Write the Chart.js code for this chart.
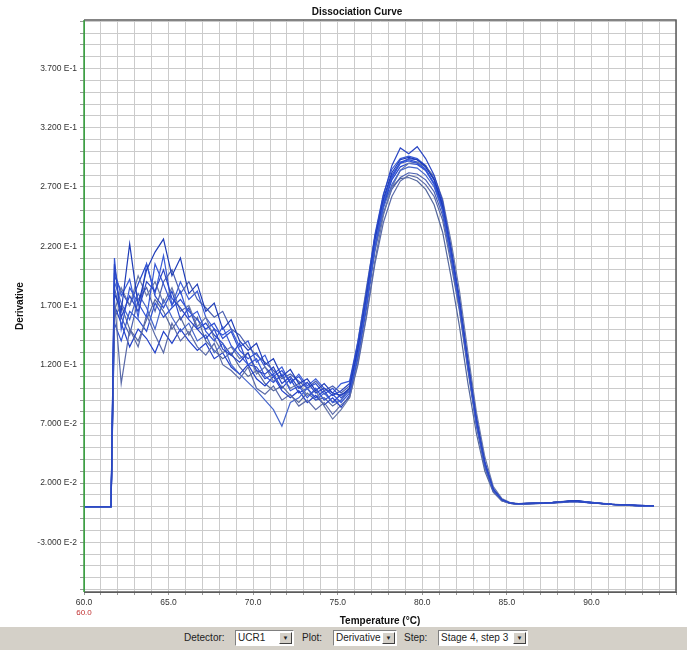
<!DOCTYPE html>
<html>
<head>
<meta charset="utf-8">
<script src="https://cdn.jsdelivr.net/npm/chart.js@4.4.1/dist/chart.umd.min.js"></script>
<style>
    html, body { margin: 0; padding: 0; background: #fff; }
    #wrap { position: relative; width: 687px; height: 650px; overflow: hidden; font-family: "Liberation Sans", Arial, sans-serif; }
    #curve { position: absolute; left: 0; top: 0; }
    #bar { position: absolute; left: 0; top: 627px; width: 687px; height: 23px; background: #d4d0c8; font-size: 10px; color: #222; }
    .lbl { position: absolute; top: 5px; }
    .combo { position: absolute; top: 3px; height: 16px; background: #fff; border: 1px solid; border-color: #808080 #fff #fff #808080; box-sizing: border-box; }
    .combo span { position: absolute; left: 2px; top: 1px; }
    .combo b { position: absolute; right: 1px; top: 1px; width: 13px; height: 12px; background: #d4d0c8; border: 1px solid; border-color: #fff #404040 #404040 #fff; box-sizing: border-box; font-size: 6px; text-align: center; line-height: 10px; font-weight: normal; }
</style>
</head>
<body>
<div id="wrap">
    <canvas id="curve" width="687" height="650"></canvas>
    <div id="bar">
        <div class="lbl" style="left:184px">Detector:</div>
        <div class="combo" style="left:235px;width:59px"><span>UCR1</span><b>&#9660;</b></div>
        <div class="lbl" style="left:302px">Plot:</div>
        <div class="combo" style="left:333px;width:64px"><span>Derivative</span><b>&#9660;</b></div>
        <div class="lbl" style="left:404px">Step:</div>
        <div class="combo" style="left:438px;width:90px"><span>Stage 4, step 3</span><b>&#9660;</b></div>
    </div>
</div>
<script>
// temperatures (deg C) shared by every well
const temps = [
    60.0, 61.6, 61.8, 62.2, 62.7, 63.2, 63.7, 64.2, 64.7, 65.2, 65.7,
    66.2, 66.7, 67.2, 67.7, 68.2, 68.7, 69.2, 69.7, 70.2, 70.7, 71.2,
    71.7, 72.2, 72.7, 73.2, 73.7, 74.2, 74.7, 75.2, 75.7, 76.2, 76.7,
    77.2, 77.7, 78.2, 78.7, 79.2, 79.7, 80.2, 80.7, 81.2, 81.7, 82.2,
    82.7, 83.2, 83.7, 84.2, 84.7, 85.2, 85.7, 86.2, 86.7, 87.2, 87.7,
    88.2, 88.7, 89.2, 89.7, 90.2, 90.7, 91.2, 91.7, 92.2, 92.7, 93.2, 93.7
];

// derivative per well
const well1 = [
    0, 0, .205, .160, .178, .165, .190, .182, .200, .176, .168,
    .158, .150, .142, .150, .133, .128, .122, .130, .115, .112, .118,
    .104, .110, .100, .105, .096, .100, .094, .098, .104, .138, .180,
    .228, .263, .288, .303, .298, .304, .294, .280, .258, .218, .174,
    .122, .074, .037, .015, .006, .003, .0025, .003, .0028, .003, .0035,
    .004, .0048, .0045, .0035, .003, .0025, .002, .0018, .0015, .0012, .001, .0008
];
const well2 = [
    0, 0, .210, .150, .185, .172, .160, .205, .188, .170, .182,
    .160, .165, .148, .140, .152, .136, .128, .120, .125, .110, .105,
    .112, .098, .102, .092, .100, .090, .095, .088, .096, .128, .170,
    .220, .256, .278, .290, .292, .290, .284, .272, .250, .212, .170,
    .118, .070, .035, .014, .006, .003, .0022, .0025, .003, .0028, .0032,
    .0038, .0042, .0046, .004, .0032, .0026, .002, .0016, .0013, .001, .0008, .0006
];
const well3 = [
    0, 0, .175, .104, .150, .135, .162, .145, .130, .155, .140,
    .148, .135, .128, .138, .120, .115, .108, .118, .100, .095, .102,
    .090, .095, .085, .090, .082, .088, .078, .086, .092, .120, .160,
    .205, .240, .262, .275, .280, .278, .272, .262, .242, .205, .165,
    .115, .068, .033, .013, .005, .0028, .002, .0024, .0026, .0028, .003,
    .0034, .004, .0042, .0036, .003, .0024, .0019, .0016, .0012, .001, .0007, .0005
];
const well4 = [
    0, 0, .180, .165, .222, .170, .200, .215, .226, .195, .210,
    .180, .188, .165, .172, .150, .158, .140, .132, .138, .120, .125,
    .110, .116, .104, .108, .098, .104, .096, .094, .100, .134, .178,
    .226, .260, .282, .293, .295, .293, .287, .276, .254, .216, .172,
    .120, .072, .036, .014, .006, .003, .0024, .0028, .003, .0032, .0036,
    .0042, .005, .0052, .0042, .0034, .0027, .0021, .0017, .0014, .0011, .0009, .0007
];
const well5 = [
    0, 0, .190, .172, .158, .180, .168, .150, .175, .160, .148,
    .155, .140, .145, .130, .138, .120, .112, .105, .098, .090, .082,
    .068, .088, .092, .100, .090, .096, .088, .090, .098, .130, .172,
    .218, .252, .272, .284, .287, .286, .280, .270, .250, .212, .170,
    .120, .072, .036, .014, .006, .003, .002, .0024, .0027, .003, .0033,
    .0038, .0044, .0047, .004, .0033, .0026, .002, .0016, .0013, .001, .0008, .0006
];
const well6 = [
    0, 0, .165, .185, .170, .195, .178, .190, .172, .185, .165,
    .170, .152, .160, .142, .130, .135, .125, .130, .112, .118, .106,
    .110, .100, .104, .094, .098, .085, .074, .082, .092, .122, .162,
    .208, .246, .270, .284, .290, .291, .287, .279, .260, .224, .182,
    .130, .080, .042, .017, .007, .0035, .0026, .003, .0032, .0034, .0038,
    .0044, .005, .0048, .004, .0034, .0028, .0022, .0018, .0015, .0012, .001, .0008
];
const well7 = [
    0, 0, .155, .140, .165, .158, .148, .172, .160, .168, .175,
    .165, .158, .150, .155, .142, .148, .132, .125, .130, .118, .110,
    .115, .105, .110, .100, .104, .095, .100, .092, .100, .136, .178,
    .225, .258, .280, .291, .293, .291, .285, .273, .252, .214, .171,
    .120, .073, .036, .014, .006, .003, .0023, .0026, .0029, .0031, .0034,
    .004, .0046, .0044, .0037, .003, .0025, .002, .0016, .0013, .001, .0008, .0006
];
const well8 = [
    0, 0, .185, .160, .145, .175, .185, .165, .190, .200, .180,
    .190, .175, .168, .160, .165, .150, .145, .135, .128, .122, .115,
    .108, .112, .106, .100, .106, .098, .102, .096, .102, .132, .172,
    .216, .248, .268, .278, .282, .281, .276, .266, .246, .209, .167,
    .117, .070, .034, .013, .005, .0028, .0022, .0025, .0028, .003, .0034,
    .0039, .0045, .0049, .0041, .0033, .0026, .002, .0016, .0012, .001, .0008, .0006
];
const well9 = [
    0, 0, .170, .155, .135, .150, .142, .130, .148, .138, .150,
    .140, .132, .138, .125, .130, .118, .112, .120, .108, .102, .110,
    .098, .092, .098, .088, .094, .086, .092, .084, .094, .126, .168,
    .218, .254, .278, .290, .294, .293, .288, .277, .256, .219, .176,
    .124, .076, .038, .015, .006, .003, .0024, .0027, .003, .0032, .0035,
    .004, .0046, .0043, .0036, .003, .0025, .002, .0016, .0013, .001, .0008, .0006
];
const well10 = [
    0, 0, .200, .178, .192, .160, .205, .180, .212, .170, .190,
    .175, .182, .160, .150, .145, .150, .135, .140, .122, .128, .112,
    .118, .104, .112, .102, .108, .100, .096, .104, .106, .140, .182,
    .230, .264, .285, .294, .296, .294, .288, .276, .254, .214, .170,
    .118, .071, .035, .014, .006, .003, .0024, .0027, .003, .0033, .0036,
    .0041, .0047, .0046, .0039, .0032, .0026, .002, .0017, .0014, .0011, .0009, .0007
];
const well11 = [
    0, 0, .160, .170, .150, .140, .158, .175, .165, .150, .160,
    .145, .160, .140, .132, .125, .130, .118, .110, .115, .104, .098,
    .102, .094, .088, .096, .090, .092, .085, .090, .100, .140, .185,
    .228, .256, .270, .277, .278, .275, .268, .255, .232, .194, .152,
    .104, .062, .030, .012, .005, .0028, .0022, .0025, .0028, .003, .0033,
    .0038, .0043, .0045, .0038, .0031, .0025, .002, .0016, .0012, .001, .0008, .0006
];
const well12 = [
    0, 0, .195, .182, .170, .188, .205, .178, .168, .182, .158,
    .168, .150, .155, .145, .138, .128, .138, .120, .118, .108, .112,
    .100, .108, .096, .100, .092, .098, .088, .095, .097, .128, .170,
    .219, .254, .276, .287, .290, .289, .284, .273, .253, .215, .173,
    .121, .073, .036, .014, .006, .003, .0023, .0026, .0029, .0031, .0034,
    .0039, .0045, .0044, .0037, .003, .0025, .002, .0016, .0013, .001, .0008, .0006
];

const wells = [well1, well2, well3, well4, well5, well6, well7, well8, well9, well10, well11, well12];
const wellColors = ['#2a46c4', '#3456d6', '#5a6aa8', '#1e3cb8', '#4666cc', '#6878a8',
                    '#2f50d0', '#4a5fb0', '#2240c8', '#3a5cd8', '#55689c', '#2848cc'];

// axis ticks
const xTicks = [];
for (let t = 60; t <= 95; t++) xTicks.push(t);
const xLabelled = [60, 65, 70, 75, 80, 85, 90];
const yTicks = [];
for (let k = -7; k <= 41; k++) yTicks.push(k / 100);
const yLabelled = [-0.03, 0.02, 0.07, 0.12, 0.17, 0.22, 0.27, 0.32, 0.37];

function sciLabel(v) {
    const exp = Math.floor(Math.log10(Math.abs(v)) + 1e-9);
    const mant = v / Math.pow(10, exp);
    return mant.toFixed(3) + ' E' + exp;
}

const frameAndText = {
    id: 'frameAndText',
    afterDraw: function (chart) {
        const ctx = chart.ctx;
        const a = chart.chartArea;
        ctx.save();
        ctx.lineWidth = 1.5;
        ctx.strokeStyle = '#5c5c5c';
        ctx.beginPath();
        ctx.moveTo(a.left, a.top);
        ctx.lineTo(a.right, a.top);
        ctx.lineTo(a.right, a.bottom);
        ctx.lineTo(a.left, a.bottom);
        ctx.stroke();
        ctx.strokeStyle = '#3f9f46';
        ctx.beginPath();
        ctx.moveTo(a.left, a.top);
        ctx.lineTo(a.left, a.bottom);
        ctx.stroke();

        ctx.fillStyle = '#111';
        ctx.font = 'bold 10px "Liberation Sans", Arial, sans-serif';
        ctx.textAlign = 'center';
        ctx.textBaseline = 'middle';
        ctx.fillText('Dissociation Curve', 357, 12);
        ctx.fillText('Temperature (\u00b0C)', (a.left + a.right) / 2, 621);
        ctx.save();
        ctx.translate(20, (a.top + a.bottom) / 2);
        ctx.rotate(-Math.PI / 2);
        ctx.fillText('Derivative', 0, 0);
        ctx.restore();

        // red start temperature under the first tick
        ctx.font = '8px "Liberation Sans", Arial, sans-serif';
        ctx.fillStyle = '#c03030';
        ctx.fillText('60.0', chart.scales.x.getPixelForValue(60), 613);
        ctx.restore();
    }
};

const tickFont = { family: '"Liberation Sans", Arial, sans-serif', size: 8.5 };

new Chart(document.getElementById('curve'), {
    type: 'line',
    data: {
        datasets: wells.map(function (w, i) {
            return {
                data: temps.map(function (t, j) { return { x: t, y: w[j] }; }),
                borderColor: wellColors[i],
                borderWidth: 1.2,
                pointRadius: 0,
                tension: 0,
                fill: false
            };
        })
    },
    options: {
        responsive: false,
        animation: false,
        layout: { padding: { top: 20, right: 11, left: 0, bottom: 0 } },
        plugins: { legend: { display: false }, tooltip: { enabled: false } },
        scales: {
            x: {
                type: 'linear',
                min: 60,
                max: 95,
                afterBuildTicks: function (s) { s.ticks = xTicks.map(function (v) { return { value: v }; }); },
                afterFit: function (s) { s.height = 58; },
                ticks: {
                    autoSkip: false,
                    maxRotation: 0,
                    padding: 3,
                    color: '#333',
                    font: tickFont,
                    callback: function (v) { return xLabelled.indexOf(v) >= 0 ? v.toFixed(1) : ''; }
                },
                grid: { color: '#cbcbcb', tickLength: 3, tickColor: '#999' },
                border: { color: '#5c5c5c' }
            },
            y: {
                min: -0.072,
                max: 0.411,
                afterBuildTicks: function (s) { s.ticks = yTicks.map(function (v) { return { value: v }; }); },
                afterFit: function (s) { s.width = 84; },
                ticks: {
                    autoSkip: false,
                    padding: 3,
                    color: '#333',
                    font: tickFont,
                    callback: function (v) {
                        const hit = yLabelled.some(function (l) { return Math.abs(l - v) < 1e-6; });
                        return hit ? sciLabel(v) : '';
                    }
                },
                grid: { color: '#cbcbcb', tickLength: 4, tickColor: '#999' },
                border: { color: '#3f9f46' }
            }
        }
    },
    plugins: [frameAndText]
});
</script>
</body>
</html>
